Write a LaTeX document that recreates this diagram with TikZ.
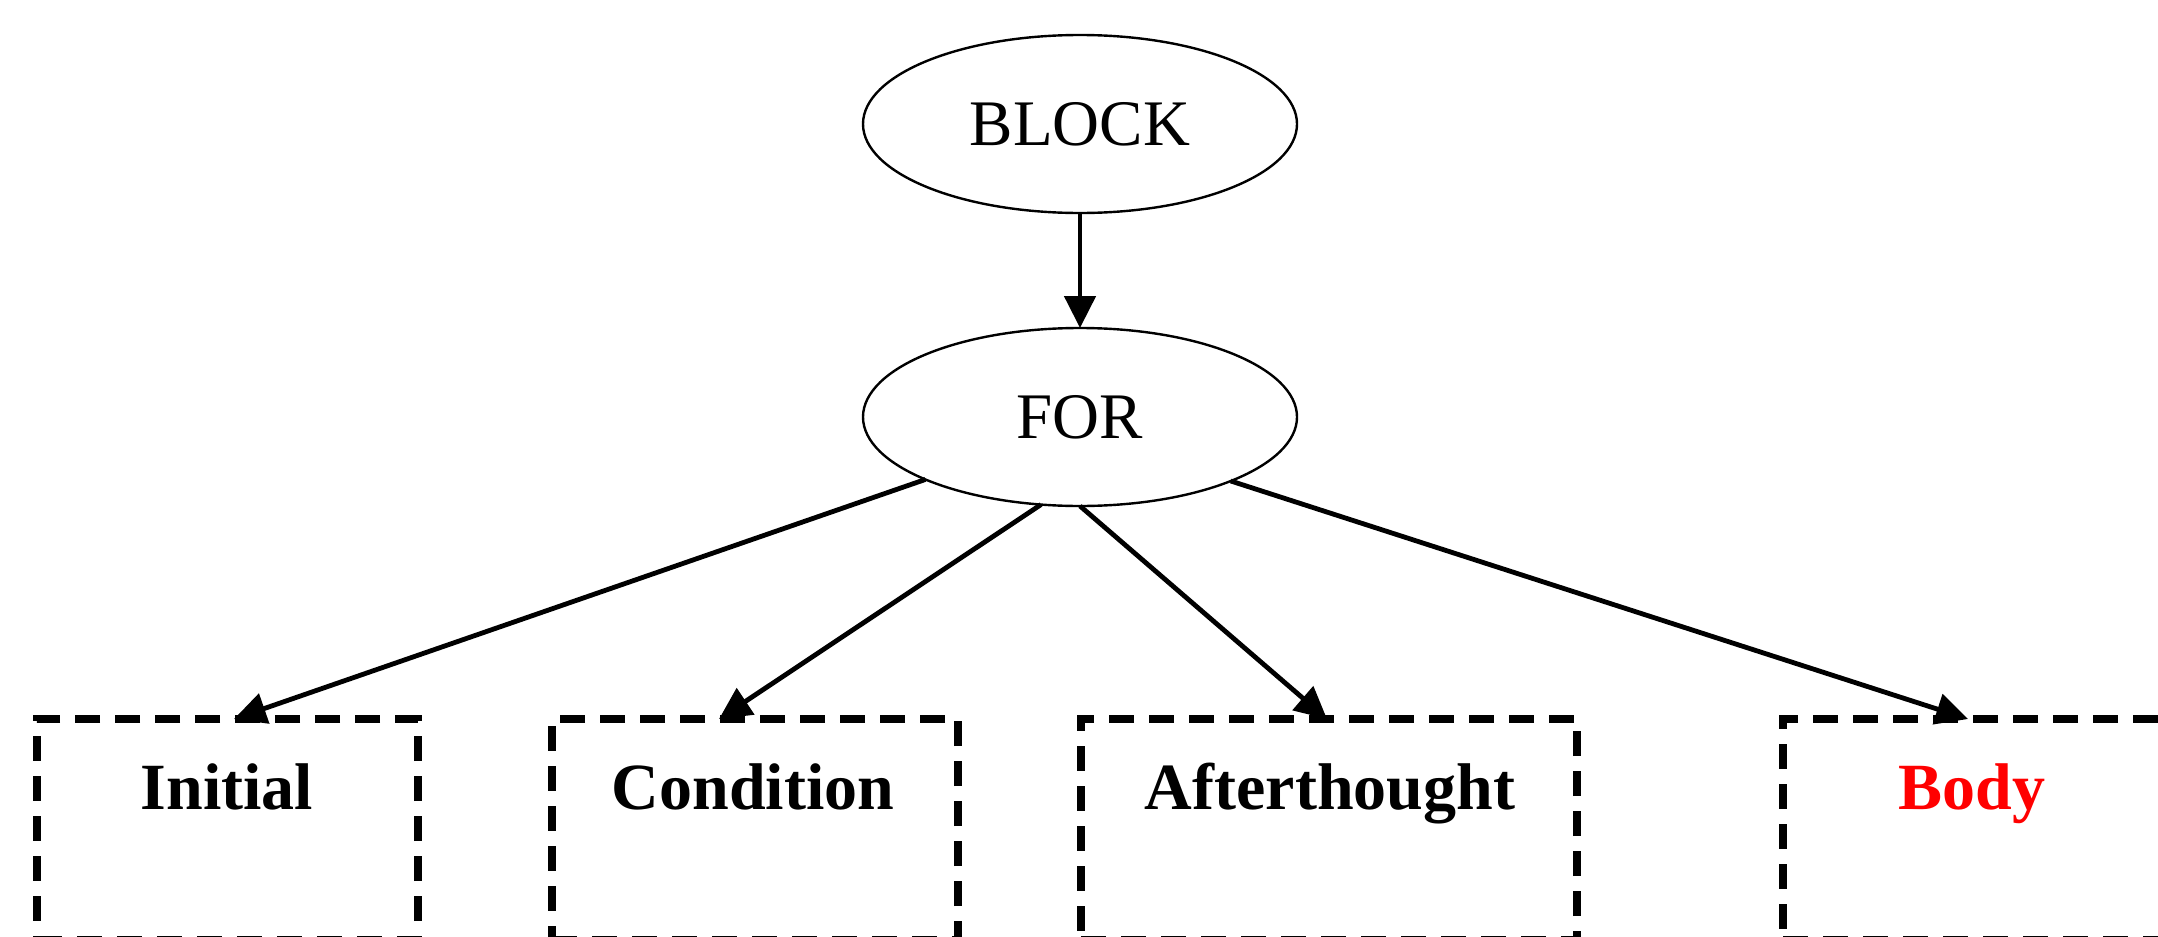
\documentclass[tikz,border=0pt]{standalone}
\usepackage{fontspec}
\setmainfont{Liberation Serif}
\usetikzlibrary{shapes.geometric,arrows.meta}
\definecolor{bodyred}{RGB}{255,0,0}
\tikzset{
  x=0.5pt, y=-0.5pt,
  oval/.style={ellipse, draw, line width=1.2pt, inner sep=0pt, outer sep=0pt,
    minimum width=217pt, minimum height=89pt,
    font=\fontsize{32.5pt}{39pt}\selectfont},
  dbox/.style={rectangle, draw, line width=4pt, dash pattern=on 12.5pt off 7.5pt,
    inner sep=0pt, outer sep=0pt},
  lbl/.style={anchor=base, inner sep=0pt, font=\fontsize{33pt}{39pt}\selectfont\bfseries},
  conn/.style={line width=2.4pt, -{Triangle[length=16pt,width=15.5pt]}},
}
\begin{document}
\begin{tikzpicture}
\useasboundingbox (0,0) rectangle (2158,937);
\clip (0,0) rectangle (2158,937);
\node[oval] (block) at (1080,124) {BLOCK};
\node[oval] (for) at (1080,417) {FOR};
\node[dbox, minimum width=190.5pt, minimum height=110.5pt] (bi) at (227.5,829.5) {};
\node[dbox, minimum width=203pt, minimum height=110.5pt] (bc) at (755,829.5) {};
\node[dbox, minimum width=248pt, minimum height=110.5pt] (ba) at (1329,829.5) {};
\node[dbox, minimum width=208.5pt, minimum height=110.5pt] (bb) at (1991.5,829.5) {};
\node[lbl] (li) at (227,809) {Initial};
\node[lbl] (lc) at (753,809) {Condition};
\node[lbl] (la) at (1330,809) {Afterthought};
\node[lbl, text=bodyred] (lb) at (1972,809) {Body};
\coordinate (ti) at (234,719);
\coordinate (tc) at (719,719);
\coordinate (ta) at (1327,719);
\coordinate (tb) at (1968,719);
\draw[conn] (block.south) -- (for.north);
\draw[conn] (for.202.4) -- (ti);
\draw[conn] (for.246) -- (tc);
\draw[conn] (for.270) -- (ta);
\draw[conn] (for.337.9) -- (tb);
\end{tikzpicture}
\end{document}
